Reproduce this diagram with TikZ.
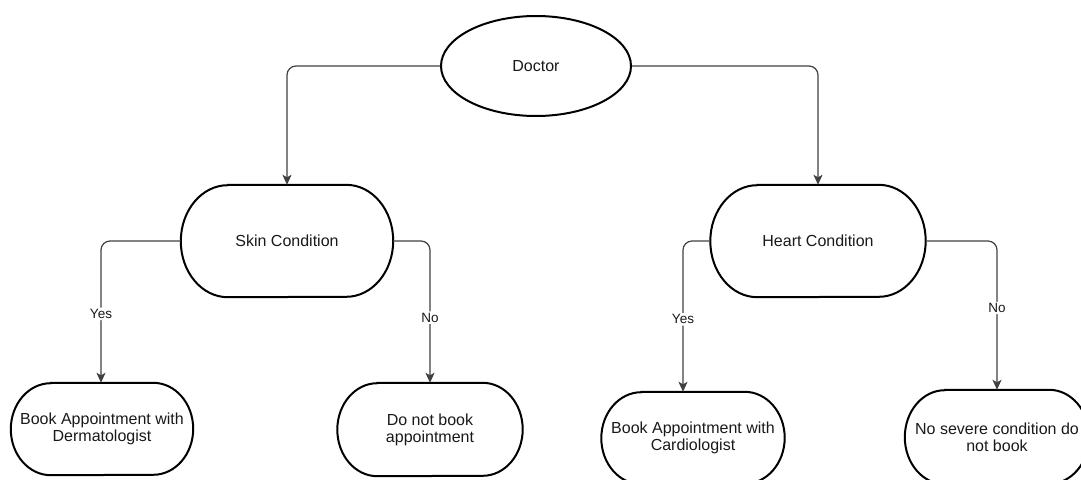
\documentclass[tikz,border=0pt]{standalone}
\usepackage{fontspec}
\setmainfont{Liberation Sans}
\usetikzlibrary{shapes.geometric,arrows.meta}
\tikzset{
  txt/.style={font=\fontsize{16}{17}\selectfont, text=black!90, align=center, inner sep=0pt},
  shapeline/.style={draw=black, line width=2pt},
  oval/.style={ellipse, shapeline, txt, fill=white},
  edge/.style={draw=black!75, line width=1.2pt, rounded corners=9pt, -{Stealth[length=10pt,width=9pt,inset=2.5pt]}},
  lbl/.style={font=\fontsize{13.5}{14}\selectfont, text=black!90, fill=white, inner sep=1.5pt}
}
\newcommand\stadoutline[3]{%
  \draw[shapeline] ([xshift=#2]#1.north west) -- ([xshift=-#2]#1.north east)
    arc[start angle=90,end angle=-90,x radius=#2,y radius=#3]
    -- ([xshift=#2]#1.south west)
    arc[start angle=270,end angle=90,x radius=#2,y radius=#3] -- cycle;}
\begin{document}
\begin{tikzpicture}[x=1pt,y=-1pt]
\useasboundingbox (0,0) rectangle (1081,479);
\clip (0,0) rectangle (1081,479);
% nodes
\node[oval, minimum width=190pt, minimum height=100pt] (doc) at (536,66) {Doctor};
\node[txt, minimum width=212pt, minimum height=112pt] (skin) at (287,241) {Skin Condition};
\node[txt, minimum width=215pt, minimum height=112pt] (heart) at (818,241) {Heart Condition};
\node[txt, minimum width=182pt, minimum height=92pt] (derm) at (102,429) {Book Appointment with\\Dermatologist};
\node[txt, minimum width=185pt, minimum height=93pt] (dono) at (430,429.5) {Do not book\\appointment};
\node[txt, minimum width=183pt, minimum height=92pt] (card) at (693,438) {Book Appointment with\\Cardiologist};
\node[txt, minimum width=184pt, minimum height=94pt] (nosev) at (997,437) {No severe condition do\\not book};
\stadoutline{skin}{47pt}{56pt}
\stadoutline{heart}{47pt}{56pt}
\stadoutline{derm}{40pt}{46pt}
\stadoutline{dono}{40pt}{46.5pt}
\stadoutline{card}{40pt}{46pt}
\stadoutline{nosev}{40pt}{47pt}
% connectors
\draw[edge] (doc.west) -| (skin.north);
\draw[edge] (doc.east) -| (heart.north);
\draw[edge] (skin.west) -| ([xshift=-1pt]derm.north) node[lbl, pos=0.757] {Yes};
\draw[edge] (skin.east) -| (dono.north) node[lbl, pos=0.77] {No};
\draw[edge] (heart.west) -| ([xshift=-10pt]card.north) node[lbl, pos=0.76] {Yes};
\draw[edge] (heart.east) -| (nosev.north) node[lbl, pos=0.725] {No};
\end{tikzpicture}
\end{document}
